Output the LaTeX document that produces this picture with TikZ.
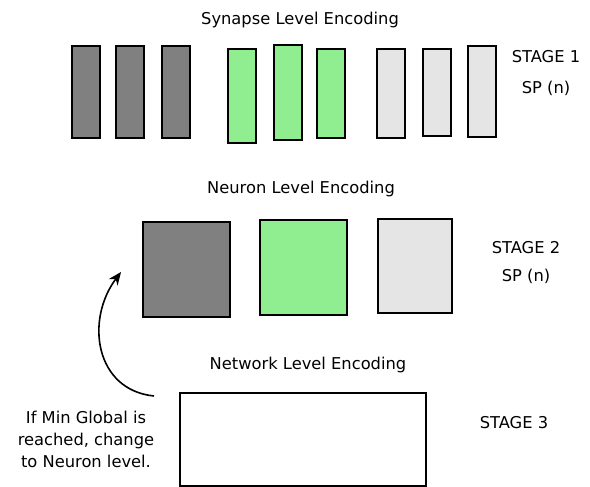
\documentclass[tikz,border=0pt]{standalone}
\usepackage{fontspec}
\setmainfont{DejaVu Sans}
\usepackage{tikz}
\usetikzlibrary{arrows.meta, positioning}

\definecolor{darkfill}{HTML}{808080}
\definecolor{greenfill}{HTML}{90EE90}
\definecolor{lightfill}{HTML}{E5E5E5}

\begin{document}
\begin{tikzpicture}[
    x=1pt, y=-1pt,
    bar/.style={rectangle, draw, line width=2pt, minimum width=28pt, minimum height=92pt, inner sep=0pt},
    sq/.style={rectangle, draw, line width=2pt, minimum width=87pt, minimum height=95pt, inner sep=0pt},
    title/.style={font=\fontsize{16.3}{20}\selectfont, inner sep=0pt},
    stage/.style={font=\fontsize{16.3}{20}\selectfont, inner sep=0pt, align=center},
    line/.style={draw, line width=1.6pt, -{Stealth[length=13pt, width=11pt]}}
]
    \useasboundingbox (0,0) rectangle (590,487);

    % Stage 1: synapse level
    \node [title] (syntitle) at (300,20) {Synapse Level Encoding};
    \node [bar, fill=darkfill] (sd1) at (86,92) {};
    \node [bar, fill=darkfill] (sd2) at (129.5,92) {};
    \node [bar, fill=darkfill] (sd3) at (176,92) {};
    \node [bar, fill=greenfill, minimum height=94pt] (sg1) at (242,96) {};
    \node [bar, fill=greenfill, minimum height=95pt] (sg2) at (288,92.5) {};
    \node [bar, fill=greenfill, minimum height=89pt] (sg3) at (330.5,93.5) {};
    \node [bar, fill=lightfill, minimum height=89pt] (sl1) at (390.5,93.5) {};
    \node [bar, fill=lightfill, minimum height=87pt] (sl2) at (437,92.5) {};
    \node [bar, fill=lightfill, minimum height=91pt] (sl3) at (482,91.5) {};
    \node [stage] (stage1) at (546,57) {STAGE 1};
    \node [stage] (sp1) at (546,88) {SP (n)};

    % Stage 2: neuron level
    \node [title] (neutitle) at (301,189) {Neuron Level Encoding};
    \node [sq, fill=darkfill] (nd) at (186.5,269) {};
    \node [sq, fill=greenfill] (ng) at (303,267.5) {};
    \node [sq, fill=lightfill, minimum width=74pt, minimum height=94pt] (nl) at (415,266) {};
    \node [stage] (stage2) at (526,248) {STAGE 2};
    \node [stage] (sp2) at (526,276) {SP (n)};

    % Stage 3: network level
    \node [title] (nettitle) at (308,365) {Network Level Encoding};
    \node [rectangle, draw, line width=2pt, minimum width=246pt, minimum height=93pt] (net) at (303,439) {};
    \node [stage] (stage3) at (514,423) {STAGE 3};
    \node [stage, font=\fontsize{16.3}{22}\selectfont] (note) at (86,439) {If Min Global is\\reached, change\\to Neuron level.};

    % Feedback arrow
    \coordinate (back) at (154,396);
    \coordinate (tip) at (121,272);
    \path [line] (back) .. controls (95,390) and (85,320) .. (tip);
\end{tikzpicture}
\end{document}
